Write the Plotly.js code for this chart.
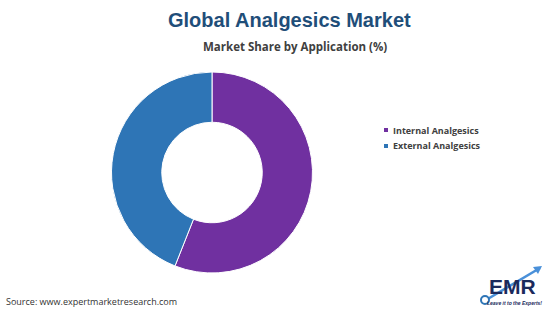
<!DOCTYPE html>
<html><head><meta charset="utf-8">
<script src="https://cdn.plot.ly/plotly-3.0.1.min.js"></script>
<style>html,body{margin:0;padding:0;background:#fff}#chart{width:550px;height:309px}</style>
</head><body><div id="chart"></div>
<script>
const categories = ["Internal Analgesics", "External Analgesics"];
const shares = [56, 44];
const colors = ["#7030A0", "#2E75B6"];

const data = [{
  type: "pie",
  labels: categories,
  values: shares,
  hole: 0.5,
  sort: false,
  direction: "clockwise",
  rotation: 0,
  textinfo: "none",
  hoverinfo: "label+percent",
  marker: {colors: colors, line: {color: "#ffffff", width: 1}},
  domain: {x: [111/550, 313/550], y: [1-273/309, 1-72/309]}
}];

// custom compact legend built from the data arrays
const legendShapes = [];
const legendNotes = [];
categories.forEach((c, i) => {
  const yc = 130 + i * 16;
  legendShapes.push({type: "rect", xref: "paper", yref: "paper",
    x0: 384/550, x1: 388/550, y0: 1-(yc+2)/309, y1: 1-(yc-2)/309,
    fillcolor: colors[i], line: {width: 0}});
  legendNotes.push({text: "<b>" + c + "</b>", x: 391/550, y: 1-yc/309, xref: "paper", yref: "paper",
    xanchor: "left", yanchor: "middle", showarrow: false,
    font: {family: "Open Sans, sans-serif", size: 9, color: "#404040"}});
});

const layout = {
  width: 550, height: 309,
  margin: {l: 0, r: 0, t: 0, b: 0},
  paper_bgcolor: "#ffffff",
  showlegend: false,
  annotations: [
    {text: "<b>Global Analgesics Market</b>", x: 289/550, y: 1-20/309, xref: "paper", yref: "paper",
     xanchor: "center", yanchor: "middle", showarrow: false,
     font: {family: "Liberation Sans, Arial, sans-serif", size: 20, color: "#1F4E79"}},
    {text: "<b>Market Share by Application (%)</b>", x: 295/550, y: 1-46/309, xref: "paper", yref: "paper",
     xanchor: "center", yanchor: "middle", showarrow: false,
     font: {family: "Open Sans, sans-serif", size: 11.5, color: "#404040"}},
    {text: "Source: www.expertmarketresearch.com", x: 4/550, y: 1-301/309, xref: "paper", yref: "paper",
     xanchor: "left", yanchor: "middle", showarrow: false,
     font: {family: "Open Sans, sans-serif", size: 9, color: "#333333"}},
    {text: "<b>EMR</b>", x: 512/550, y: 1-299/309, xref: "paper", yref: "paper",
     xanchor: "center", yanchor: "bottom", showarrow: false, borderpad: 0,
     font: {family: "Liberation Sans, Arial, sans-serif", size: 21, color: "#1B2A5C"}},
    {text: "<b><i>Leave it to the Experts!</i></b>", x: 514/550, y: 1-299/309, xref: "paper", yref: "paper",
     xanchor: "center", yanchor: "top", showarrow: false, borderpad: 0,
     font: {family: "Liberation Sans, Arial, sans-serif", size: 5, color: "#1B2A5C"}}
  ].concat(legendNotes),
  shapes: [
    {type: "line", xref: "paper", yref: "paper", x0: 486/550, y0: 1-300/309, x1: 540/550, y1: 1-268/309,
     line: {color: "#4A90D9", width: 2.5}, layer: "below"},
    {type: "path", xref: "paper", yref: "paper",
     path: "M " + 542/550 + " " + (1-266/309) + " L " + 533/550 + " " + (1-267/309) + " L " + 538/550 + " " + (1-274/309) + " Z",
     fillcolor: "#4A90D9", line: {width: 0}, layer: "below"},
    {type: "circle", xref: "paper", yref: "paper", x0: 481/550, y0: 1-304/309, x1: 489/550, y1: 1-296/309,
     line: {color: "#2E75B6", width: 2}, fillcolor: "#ffffff"}
  ].concat(legendShapes)
};

Plotly.newPlot("chart", data, layout, {displayModeBar: false, staticPlot: true});
</script></body></html>
